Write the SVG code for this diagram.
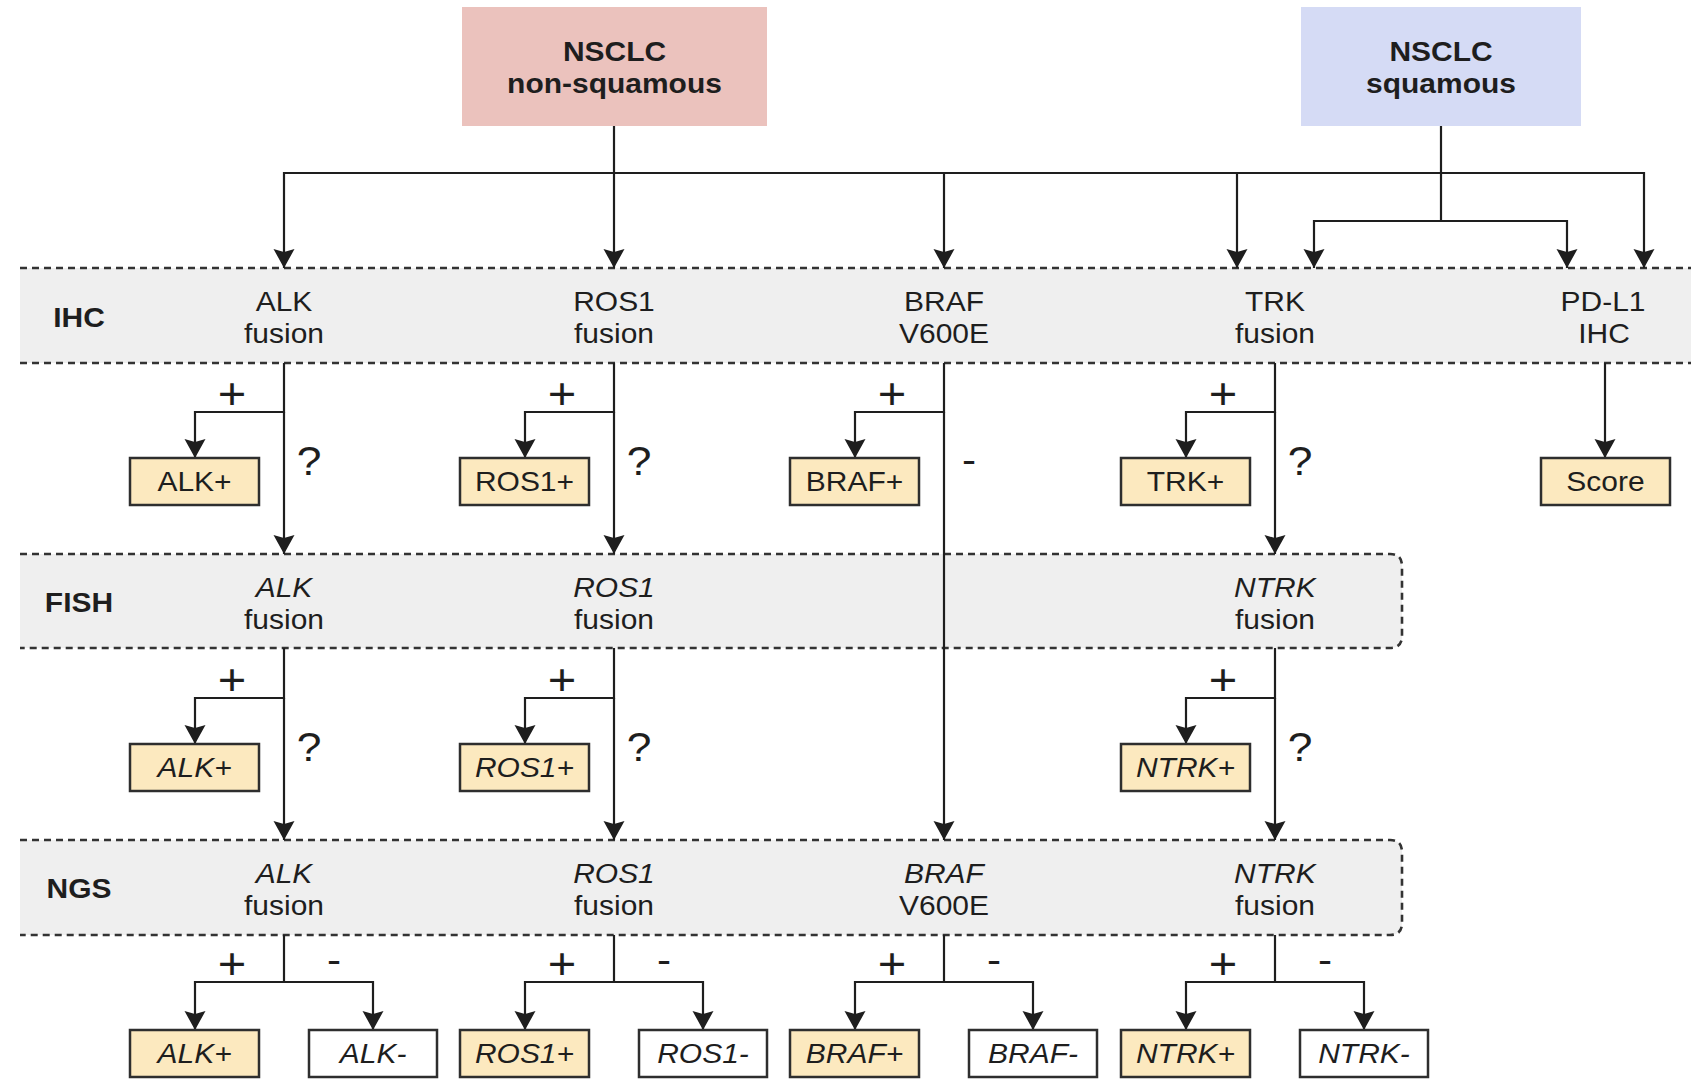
<svg xmlns="http://www.w3.org/2000/svg" width="1691" height="1081" viewBox="0 0 1691 1081">
<style>
text{font-family:"Liberation Sans",Arial,Helvetica,sans-serif;font-size:27px;fill:#1e1e1e;text-anchor:middle;transform-box:fill-box;transform-origin:center;transform:scaleX(1.11)}
.b{font-weight:bold}
.i{font-style:italic}
.sym{font-size:38px}
.plus{font-size:44px}
.q{font-size:40px}
.band{fill:#efefef;stroke:none}
.dash{fill:none;stroke:#333333;stroke-width:2.6;stroke-dasharray:7 5}
.leaf{fill:#fce9bf;stroke:#2e2e2e;stroke-width:2.5}
.neg{fill:#ffffff;stroke:#2e2e2e;stroke-width:2.5}
.c{fill:none;stroke:#1e1e1e;stroke-width:2.2;marker-end:url(#ah)}
</style>
<defs>
<marker id="ah" markerUnits="userSpaceOnUse" markerWidth="19" markerHeight="22" viewBox="0 -11 19 22" refX="19" refY="0" orient="auto">
<path d="M0,-10.5 L19,0 L0,10.5 L3,0 Z" fill="#1e1e1e"/>
</marker>
</defs>
<rect width="1691" height="1081" fill="#ffffff"/>

<g id="band-ihc">
<rect class="band" x="20" y="268" width="1671" height="95"/>
<path class="dash" d="M20,268 H1691 M20,363 H1691"/>
<text class="b" x="79" y="327">IHC</text>
</g>
<g id="band-fish">
<path class="band" d="M20,554 H1390 Q1402,554 1402,566 V636 Q1402,648 1390,648 H20 Z"/>
<path class="dash" d="M20,554 H1390 Q1402,554 1402,566 V636 Q1402,648 1390,648 H20"/>
<text class="b" x="79" y="612">FISH</text>
</g>
<g id="band-ngs">
<path class="band" d="M20,840 H1390 Q1402,840 1402,852 V923 Q1402,935 1390,935 H20 Z"/>
<path class="dash" d="M20,840 H1390 Q1402,840 1402,852 V923 Q1402,935 1390,935 H20"/>
<text class="b" x="79" y="898">NGS</text>
</g>

<g id="connectors">
<path class="c" d="M614,126 V268"/>
<path class="c" d="M614,173 H284 V268"/>
<path class="c" d="M614,173 H1644 V268"/>
<path class="c" d="M944,173 V268"/>
<path class="c" d="M1237,173 V268"/>
<path class="c" d="M1441,126 V221 H1314 V268"/>
<path class="c" d="M1441,221 H1567 V268"/>
<path class="c" d="M284,363 V412 H195 V458"/>
<path class="c" d="M284,412 V554"/>
<path class="c" d="M614,363 V412 H525 V458"/>
<path class="c" d="M614,412 V554"/>
<path class="c" d="M944,363 V412 H855 V458"/>
<path class="c" d="M944,412 V840"/>
<path class="c" d="M1275,363 V412 H1186 V458"/>
<path class="c" d="M1275,412 V554"/>
<path class="c" d="M1605,363 V458"/>
<path class="c" d="M284,648 V698 H195 V744"/>
<path class="c" d="M284,698 V840"/>
<path class="c" d="M614,648 V698 H525 V744"/>
<path class="c" d="M614,698 V840"/>
<path class="c" d="M1275,648 V698 H1186 V744"/>
<path class="c" d="M1275,698 V840"/>
<path class="c" d="M284,935 V982 H195 V1030"/>
<path class="c" d="M284,982 H373 V1030"/>
<path class="c" d="M614,935 V982 H525 V1030"/>
<path class="c" d="M614,982 H703 V1030"/>
<path class="c" d="M944,935 V982 H855 V1030"/>
<path class="c" d="M944,982 H1033 V1030"/>
<path class="c" d="M1275,935 V982 H1186 V1030"/>
<path class="c" d="M1275,982 H1364 V1030"/>
<text class="plus" x="232" y="409">+</text>
<text class="q" x="309" y="475">?</text>
<text class="plus" x="562" y="409">+</text>
<text class="q" x="639" y="475">?</text>
<text class="plus" x="892" y="409">+</text>
<text class="sym" x="969" y="473">-</text>
<text class="plus" x="1223" y="409">+</text>
<text class="q" x="1300" y="475">?</text>
<text class="plus" x="232" y="695">+</text>
<text class="q" x="309" y="761">?</text>
<text class="plus" x="562" y="695">+</text>
<text class="q" x="639" y="761">?</text>
<text class="plus" x="1223" y="695">+</text>
<text class="q" x="1300" y="761">?</text>
<text class="plus" x="232" y="979">+</text>
<text class="sym" x="334" y="973">-</text>
<text class="plus" x="562" y="979">+</text>
<text class="sym" x="664" y="973">-</text>
<text class="plus" x="892" y="979">+</text>
<text class="sym" x="994" y="973">-</text>
<text class="plus" x="1223" y="979">+</text>
<text class="sym" x="1325" y="973">-</text>
</g>

<g id="nsclc-nonsquamous">
<rect x="462" y="7" width="305" height="119" fill="#ebc2bd"/>
<text class="b" x="614.5" y="61">NSCLC</text>
<text class="b" x="614.5" y="93">non-squamous</text>
</g>
<g id="nsclc-squamous">
<rect x="1301" y="7" width="280" height="119" fill="#d5dbf5"/>
<text class="b" x="1441" y="61">NSCLC</text>
<text class="b" x="1441" y="93">squamous</text>
</g>

<g id="ihc-alk"><text x="284" y="311">ALK</text><text x="284" y="343">fusion</text></g>
<g id="ihc-ros1"><text x="614" y="311">ROS1</text><text x="614" y="343">fusion</text></g>
<g id="ihc-braf"><text x="944" y="311">BRAF</text><text x="944" y="343">V600E</text></g>
<g id="ihc-trk"><text x="1275" y="311">TRK</text><text x="1275" y="343">fusion</text></g>
<g id="ihc-pdl1"><text x="1603" y="311">PD-L1</text><text x="1604" y="343">IHC</text></g>

<g id="fish-alk"><text class="i" x="284" y="597">ALK</text><text x="284" y="629">fusion</text></g>
<g id="fish-ros1"><text class="i" x="614" y="597">ROS1</text><text x="614" y="629">fusion</text></g>
<g id="fish-ntrk"><text class="i" x="1275" y="597">NTRK</text><text x="1275" y="629">fusion</text></g>

<g id="ngs-alk"><text class="i" x="284" y="883">ALK</text><text x="284" y="915">fusion</text></g>
<g id="ngs-ros1"><text class="i" x="614" y="883">ROS1</text><text x="614" y="915">fusion</text></g>
<g id="ngs-braf"><text class="i" x="944" y="883">BRAF</text><text x="944" y="915">V600E</text></g>
<g id="ngs-ntrk"><text class="i" x="1275" y="883">NTRK</text><text x="1275" y="915">fusion</text></g>

<g id="ihc-alk-pos"><rect class="leaf" x="130" y="458" width="129" height="47"/><text x="194.5" y="491">ALK+</text></g>
<g id="ihc-ros1-pos"><rect class="leaf" x="460" y="458" width="129" height="47"/><text x="524.5" y="491">ROS1+</text></g>
<g id="ihc-braf-pos"><rect class="leaf" x="790" y="458" width="129" height="47"/><text x="854.5" y="491">BRAF+</text></g>
<g id="ihc-trk-pos"><rect class="leaf" x="1121" y="458" width="129" height="47"/><text x="1185.5" y="491">TRK+</text></g>
<g id="pdl1-score"><rect class="leaf" x="1541" y="458" width="129" height="47"/><text x="1605.5" y="491">Score</text></g>

<g id="fish-alk-pos"><rect class="leaf" x="130" y="744" width="129" height="47"/><text class="i" x="194.5" y="777">ALK+</text></g>
<g id="fish-ros1-pos"><rect class="leaf" x="460" y="744" width="129" height="47"/><text class="i" x="524.5" y="777">ROS1+</text></g>
<g id="fish-ntrk-pos"><rect class="leaf" x="1121" y="744" width="129" height="47"/><text class="i" x="1185.5" y="777">NTRK+</text></g>

<g id="ngs-alk-pos"><rect class="leaf" x="130" y="1030" width="129" height="47"/><text class="i" x="194.5" y="1063">ALK+</text></g>
<g id="ngs-alk-neg"><rect class="neg" x="309" y="1030" width="128" height="47"/><text class="i" x="373" y="1063">ALK-</text></g>
<g id="ngs-ros1-pos"><rect class="leaf" x="460" y="1030" width="129" height="47"/><text class="i" x="524.5" y="1063">ROS1+</text></g>
<g id="ngs-ros1-neg"><rect class="neg" x="639" y="1030" width="128" height="47"/><text class="i" x="703" y="1063">ROS1-</text></g>
<g id="ngs-braf-pos"><rect class="leaf" x="790" y="1030" width="129" height="47"/><text class="i" x="854.5" y="1063">BRAF+</text></g>
<g id="ngs-braf-neg"><rect class="neg" x="969" y="1030" width="128" height="47"/><text class="i" x="1033" y="1063">BRAF-</text></g>
<g id="ngs-ntrk-pos"><rect class="leaf" x="1121" y="1030" width="129" height="47"/><text class="i" x="1185.5" y="1063">NTRK+</text></g>
<g id="ngs-ntrk-neg"><rect class="neg" x="1300" y="1030" width="128" height="47"/><text class="i" x="1364" y="1063">NTRK-</text></g>
</svg>
